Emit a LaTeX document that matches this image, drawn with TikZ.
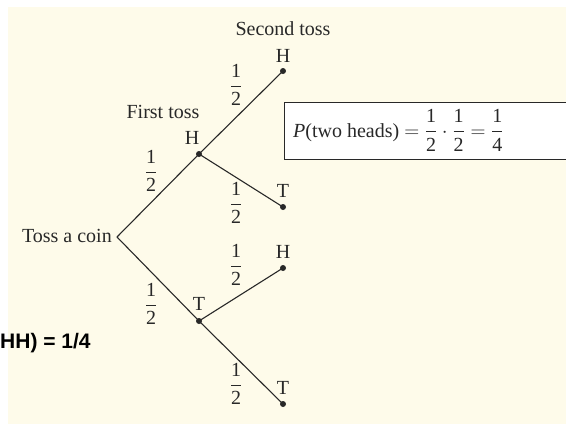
\documentclass[tikz,border=0pt]{standalone}
\usepackage{amsmath}
\usepackage{fontspec}
\setmainfont{Liberation Serif}
\newfontfamily\labelsans{Liberation Sans}
\definecolor{paper}{RGB}{254,251,234}
\definecolor{ink}{RGB}{40,40,40}
\newcommand{\half}{\ensuremath{\dfrac{\text{1}}{\text{2}}}}
\begin{document}
\begin{tikzpicture}[x=1pt,y=-1pt,
  txt/.style={inner sep=0pt,text=ink,font=\fontsize{20}{24}\selectfont},
  prob/.style={txt},
  dot/.style={circle,fill=ink,inner sep=0pt,minimum size=6pt},
  branch/.style={draw=ink,line width=1.1pt}]
  \useasboundingbox (0,0) rectangle (566,424);
  \clip (0,0) rectangle (566,424);
  \fill[white] (0,0) rectangle (566,424);
  \fill[paper] (8,7) rectangle (566,424);

  % tree vertices
  \coordinate (root) at (117,237);
  \node[dot] (h1) at (199,154) {};
  \node[dot] (t1) at (199,321) {};
  \node[dot] (hh) at (283,71) {};
  \node[dot] (ht) at (283,207) {};
  \node[dot] (th) at (283,268) {};
  \node[dot] (tt) at (283,404) {};

  % branches
  \draw[branch] (root) -- (h1.center);
  \draw[branch] (root) -- (t1.center);
  \draw[branch] (h1.center) -- (hh.center);
  \draw[branch] (h1.center) -- (ht.center);
  \draw[branch] (t1.center) -- (th.center);
  \draw[branch] (t1.center) -- (tt.center);

  % headings and outcome letters
  \node[txt,anchor=base east] (start) at (112,242) {Toss a coin};
  \node[txt,anchor=base] (first) at (163,118) {First toss};
  \node[txt,anchor=base] (second) at (283,35) {Second toss};
  \node[txt,anchor=base] (lh1) at (192,144) {H};
  \node[txt,anchor=base] (lt1) at (199,310) {T};
  \node[txt,anchor=base] (lhh) at (283,62) {H};
  \node[txt,anchor=base] (lht) at (283,197) {T};
  \node[txt,anchor=base] (lth) at (283,258) {H};
  \node[txt,anchor=base] (ltt) at (283,394) {T};

  % branch probabilities
  \node[prob] (p1) at (151,171) {\half};
  \node[prob] (p2) at (151,304) {\half};
  \node[prob] (p3) at (236,85) {\half};
  \node[prob] (p4) at (236,203) {\half};
  \node[prob] (p5) at (236,265) {\half};
  \node[prob] (p6) at (236,384) {\half};

  % result box
  \draw[ink,line width=0.9pt,fill=white] (284,102) rectangle (590,159);
  \node[txt,anchor=base west] (res) at (293,137)
    {\textit{P}(two heads) $=\dfrac{\text{1}}{\text{2}}\cdot\dfrac{\text{1}}{\text{2}}=\dfrac{\text{1}}{\text{4}}$};

  \node[inner sep=0pt,anchor=base west,font=\labelsans\bfseries\fontsize{21}{24}\selectfont] (hh4) at (0,348) {HH) = 1/4};
\end{tikzpicture}
\end{document}
